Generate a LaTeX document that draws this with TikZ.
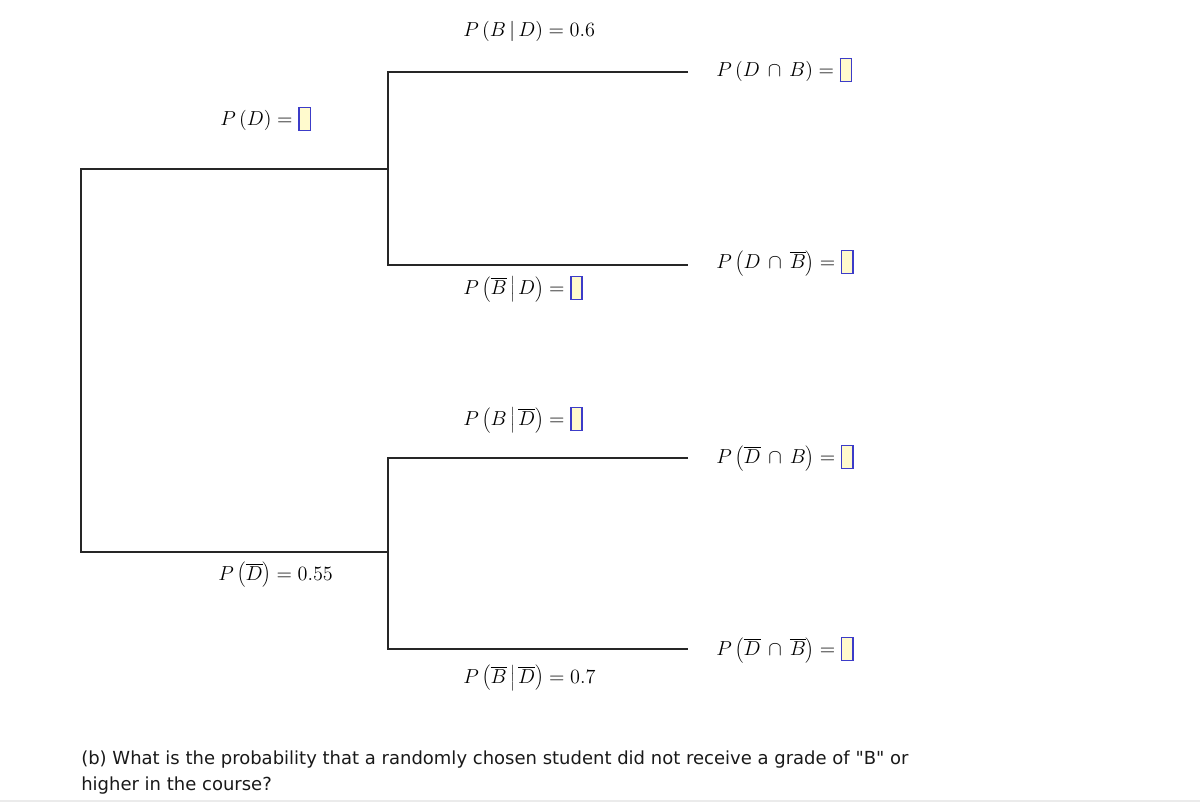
\documentclass[tikz,border=0pt]{standalone}
\usepackage{fontspec}
\newfontfamily\qfont{DejaVu Sans}
\usetikzlibrary{positioning}

\definecolor{boxblue}{RGB}{60,60,200}
\definecolor{boxfill}{RGB}{255,250,205}
\newcommand{\blankbox}{{\setlength{\fboxsep}{0pt}\setlength{\fboxrule}{1pt}\raisebox{-3pt}{\fcolorbox{boxblue}{boxfill}{\rule{0pt}{15pt}\hspace{7pt}}}}}

\tikzset{
  prob/.style={anchor=west, inner sep=0pt, font=\fontsize{15}{18}\selectfont},
  branch/.style={line width=0.8pt, draw=black!85}
}

\begin{document}
\begin{tikzpicture}[x=0.025cm, y=-0.025cm]
    \useasboundingbox (0,0) rectangle (1200,803);

    % Tree points
    \coordinate (r1) at (81,169);
    \coordinate (r2) at (81,552);
    \coordinate (m1) at (388,169);
    \coordinate (m2) at (388,552);
    \coordinate (a1) at (388,72);
    \coordinate (a2) at (388,265);
    \coordinate (b1) at (388,458);
    \coordinate (b2) at (388,649);
    \coordinate (e1) at (688,72);
    \coordinate (e2) at (688,265);
    \coordinate (e3) at (688,458);
    \coordinate (e4) at (688,649);

    % Branches
    \draw[branch] (m1) -- (r1) -- (r2) -- (m2);
    \draw[branch] (e1) -- (a1) -- (a2) -- (e2);
    \draw[branch] (e3) -- (b1) -- (b2) -- (e4);

    % First stage
    \node[prob] (pd) at (220,119) {$P\left(D\right)=\blankbox$};
    \node[prob] (pdn) at (218,575) {$P\left(\overline{D}\right)=0.55$};

    % Second stage
    \node[prob] (pbd) at (463,31) {$P\left(B\,\middle|\,D\right)=0.6$};
    \node[prob] (pbnd) at (463,289) {$P\left(\overline{B}\,\middle|\,D\right)=\blankbox$};
    \node[prob] (pbdn) at (463,420) {$P\left(B\,\middle|\,\overline{D}\right)=\blankbox$};
    \node[prob] (pbndn) at (463,678) {$P\left(\overline{B}\,\middle|\,\overline{D}\right)=0.7$};

    % Joint outcomes
    \node[prob] (j1) at (716,70) {$P\left(D\,\cap\, B\right)=\blankbox$};
    \node[prob] (j2) at (716,263) {$P\left(D\,\cap\, \overline{B}\right)=\blankbox$};
    \node[prob] (j3) at (716,458) {$P\left(\overline{D}\,\cap\, B\right)=\blankbox$};
    \node[prob] (j4) at (716,650) {$P\left(\overline{D}\,\cap\, \overline{B}\right)=\blankbox$};

    % Question
    \node[anchor=north west, inner sep=0pt, align=left, font=\qfont\fontsize{12.8}{18.5}\selectfont, text=black!90] (qb) at (81,751)
      {(b) What is the probability that a randomly chosen student did not receive a grade of "B" or\\higher in the course?};
    \draw[black!8, line width=1pt] (0,801) -- (1200,801);
\end{tikzpicture}
\end{document}
